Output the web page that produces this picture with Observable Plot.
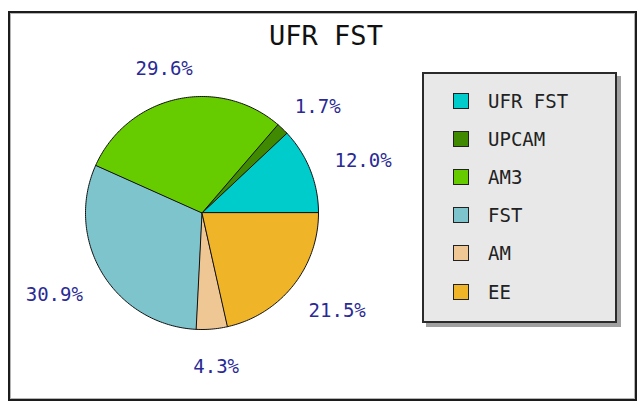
<!DOCTYPE html>
<html>
<head>
<meta charset="utf-8">
<script src="https://cdn.jsdelivr.net/npm/d3@7"></script>
<script src="https://cdn.jsdelivr.net/npm/@observablehq/plot@0.6"></script>
<style>
  body { margin: 0; background: #fff; }
  #wrap { position: relative; width: 638px; height: 403px; overflow: hidden; font-family: "DejaVu Sans Mono", monospace; }
  #frame { position: absolute; left: 8px; top: 11px; width: 629px; height: 390px; box-sizing: border-box;
           border: 2px solid #1c1c1c; box-shadow: inset 1px 1px 0 #b4b4b4, inset -1px -1px 0 #b4b4b4; }
  #chart { position: absolute; left: 0; top: 0; }
  #title { position: absolute; left: 226px; top: 22px; width: 200px; text-align: center; font-size: 27px; line-height: 27px; color: #111; }
  #legend { position: absolute; left: 422px; top: 72px; width: 195px; height: 251px; box-sizing: border-box;
            border: 2px solid #2a2a2a; background: #e8e8e8; box-shadow: 4px 4px 0 #a0a0a0; }
  .sw { position: absolute; width: 16px; height: 16px; box-sizing: border-box; border: 1px solid #222; }
  .lt { position: absolute; font-size: 19px; line-height: 20px; color: #222; white-space: pre; }
</style>
</head>
<body>
<div id="wrap">
  <div id="frame"></div>
  <div id="chart"></div>
  <div id="title">UFR FST</div>
  <div id="legend"></div>
</div>
<script>
const categories = ["UFR FST", "UPCAM", "AM3", "FST", "AM", "EE"];
const shares = [12.0, 1.7, 29.6, 30.9, 4.3, 21.5];
const colors = ["#00cccc", "#3f8a00", "#66cc00", "#7ec4cc", "#efc794", "#efb427"];
const labelColor = "#2a2a96";

const R = 116.5; // pie radius in px (layout)
const total = d3.sum(shares);
let acc = 0;
const slices = categories.map((c, i) => {
  const a0 = acc / total * 2 * Math.PI;
  acc += shares[i];
  const a1 = acc / total * 2 * Math.PI;
  return {c, v: shares[i], a0, a1, m: (a0 + a1) / 2};
});

const poly = [];
slices.forEach(s => {
  poly.push({c: s.c, x: 0, y: 0});
  const n = Math.max(2, Math.ceil((s.a1 - s.a0) / (Math.PI / 180)));
  for (let k = 0; k <= n; k++) {
    const a = s.a0 + (s.a1 - s.a0) * k / n;
    poly.push({c: s.c, x: Math.cos(a), y: Math.sin(a)});
  }
});

const labels = slices.map(s => {
  const t = s.v.toFixed(1) + "%";
  const halfW = t.length * 11.7 / 2, halfH = 7, off = 144, drop = 3;
  const cx = Math.cos(s.m), cy = Math.sin(s.m);
  return {t, x: (cx * off + cx * halfW) / R, y: (cy * off + cy * halfH - drop) / R};
});

const cxp = 201.5, cyp = 212.5;
const chart = Plot.plot({
  width: 638, height: 403,
  margin: 0,
  axis: null,
  x: {domain: [-1, 1], range: [cxp - R, cxp + R]},
  y: {domain: [-1, 1], range: [cyp + R, cyp - R]},
  color: {domain: categories, range: colors},
  style: {background: "transparent", overflow: "visible"},
  marks: [
    Plot.line(poly, {x: "x", y: "y", z: "c", fill: "c", stroke: "#111", strokeWidth: 1, curve: "linear-closed"}),
    Plot.text(labels, {x: "x", y: "y", text: "t", fill: labelColor, fontSize: 19,
                       fontFamily: "DejaVu Sans Mono", textAnchor: "middle", lineAnchor: "middle"})
  ]
});
document.getElementById("chart").appendChild(chart);

const legend = document.getElementById("legend");
categories.forEach((c, i) => {
  const cy = 100.5 + i * 38.2 - 74; // relative to legend padding box
  const sw = document.createElement("div");
  sw.className = "sw";
  sw.style.left = "29px";
  sw.style.top = (cy - 8) + "px";
  sw.style.background = colors[i];
  legend.appendChild(sw);
  const lt = document.createElement("div");
  lt.className = "lt";
  lt.style.left = "64px";
  lt.style.top = (cy - 10) + "px";
  lt.textContent = c;
  legend.appendChild(lt);
});
</script>
</body>
</html>
